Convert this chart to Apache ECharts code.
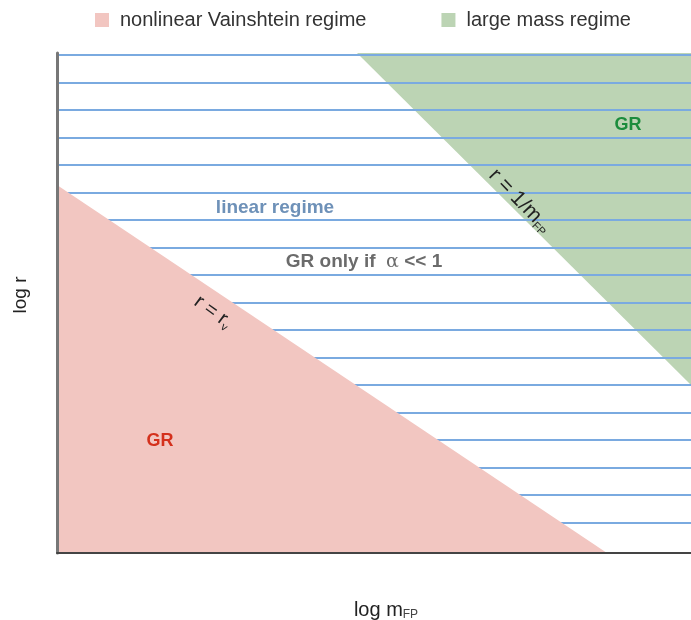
<!DOCTYPE html>
<html>
<head>
<meta charset="utf-8">
<script src="https://cdn.jsdelivr.net/npm/echarts@6/dist/echarts.min.js"></script>
<style>
  html, body { margin: 0; padding: 0; background: #fff; }
  #chart { width: 691px; height: 620px; }
</style>
</head>
<body>
<div id="chart"></div>
<script>
// schematic axes, arbitrary units (log m_FP across, log r up)
const xRange = [0, 634]
const yRange = [0, 500]

// boundary r = r_V : pink region sits below it
const vainshteinEdge = [[0, 368], [550, 0]]
// boundary r = 1/m_FP : green region sits above it
const massEdge = [[300, 500], [634, 168]]

// hatching of the linear regime
const hatchLevels = [30, 58, 85, 113, 140, 168, 195, 223, 250, 278, 305, 333, 360, 388, 415, 443, 470, 498]

const pink = '#f2c6c1'
const green = '#bcd4b4'
const font = '"Liberation Sans", Arial, sans-serif'

const chart = echarts.init(document.getElementById('chart'))

// one plain line series per hatch level, kept under the pink area
const hatchSeries = hatchLevels.map(v => ({
  name: 'hatch',
  type: 'line',
  z: 2,
  silent: true,
  symbol: 'none',
  data: [[xRange[0], v], [xRange[1], v]],
  lineStyle: { color: '#7aaae0', width: 2 }
}))

chart.setOption({
  animation: false,
  textStyle: { fontFamily: font },
  legend: {
    left: 90,
    top: 5,
    icon: 'rect',
    itemWidth: 14,
    itemHeight: 14,
    itemGap: 75,
    textStyle: { fontSize: 20, color: '#333', padding: [0, 0, 0, 6] },
    data: ['nonlinear Vainshtein regime', 'large mass regime']
  },
  grid: { left: 57, right: 0, top: 53, bottom: 67, outerBoundsMode: 'none' },
  xAxis: {
    type: 'value',
    z: 10,
    min: xRange[0],
    max: xRange[1],
    name: 'log m{s|FP}',
    nameLocation: 'middle',
    nameGap: 46,
    nameTextStyle: {
      fontSize: 20,
      color: '#222',
      padding: [0, 0, 0, 24],
      rich: { s: { fontSize: 12, color: '#444', verticalAlign: 'bottom', padding: [10, 0, 0, 0] } }
    },
    axisLine: { lineStyle: { color: '#444', width: 2 } },
    axisTick: { show: false },
    axisLabel: { show: false },
    splitLine: { show: false }
  },
  yAxis: {
    type: 'value',
    z: 10,
    min: yRange[0],
    max: yRange[1],
    name: 'log r',
    nameLocation: 'middle',
    nameGap: 27,
    nameTextStyle: { fontSize: 19, color: '#222', padding: [0, 0, 0, 16] },
    axisLine: { lineStyle: { color: '#777', width: 3 } },
    axisTick: { show: false },
    axisLabel: { show: false },
    splitLine: { show: false }
  },
  series: [
    {
      name: 'large mass regime',
      type: 'line',
      z: 1,
      data: massEdge,
      symbol: 'none',
      itemStyle: { color: green },
      lineStyle: { width: 0, color: green },
      areaStyle: { color: green, opacity: 1, origin: 'end' }
    },
    ...hatchSeries,
    {
      name: 'nonlinear Vainshtein regime',
      type: 'line',
      z: 3,
      data: vainshteinEdge,
      symbol: 'none',
      itemStyle: { color: pink },
      lineStyle: { width: 0, color: pink },
      areaStyle: { color: pink, opacity: 1, origin: 'start' }
    }
  ],
  graphic: [
    {
      type: 'text', z: 10, x: 275, y: 208,
      style: { text: 'linear regime', font: 'bold 19px ' + font, fill: '#6e91b8', align: 'center', verticalAlign: 'middle' }
    },
    {
      type: 'text', z: 10, x: 364, y: 262,
      style: {
        text: 'GR only if  {a|α} << 1',
        font: 'bold 19px ' + font,
        fill: '#6b6b6b',
        align: 'center',
        verticalAlign: 'middle',
        rich: { a: { fontFamily: '"DejaVu Serif", serif', fontSize: 19, fill: '#6b6b6b' } }
      }
    },
    {
      type: 'text', z: 10, x: 160, y: 441,
      style: { text: 'GR', font: 'bold 18px ' + font, fill: '#d4301c', align: 'center', verticalAlign: 'middle' }
    },
    {
      type: 'text', z: 10, x: 628, y: 125,
      style: { text: 'GR', font: 'bold 18px ' + font, fill: '#1b8c3c', align: 'center', verticalAlign: 'middle' }
    },
    {
      type: 'text', z: 10, x: 213, y: 312, rotation: -36 * Math.PI / 180,
      style: {
        text: 'r = r{s|v}',
        font: '20px ' + font,
        fill: '#222',
        align: 'center',
        verticalAlign: 'middle',
        rich: { s: { fontSize: 11, fill: '#222', padding: [12, 0, 0, 0] } }
      }
    },
    {
      type: 'text', z: 10, x: 520, y: 201, rotation: -46 * Math.PI / 180,
      style: {
        text: 'r = 1/m{s|FP}',
        font: '21px ' + font,
        fill: '#222',
        align: 'center',
        verticalAlign: 'middle',
        rich: { s: { fontSize: 11, fill: '#222', padding: [12, 0, 0, 0] } }
      }
    }
  ]
})
</script>
</body>
</html>
